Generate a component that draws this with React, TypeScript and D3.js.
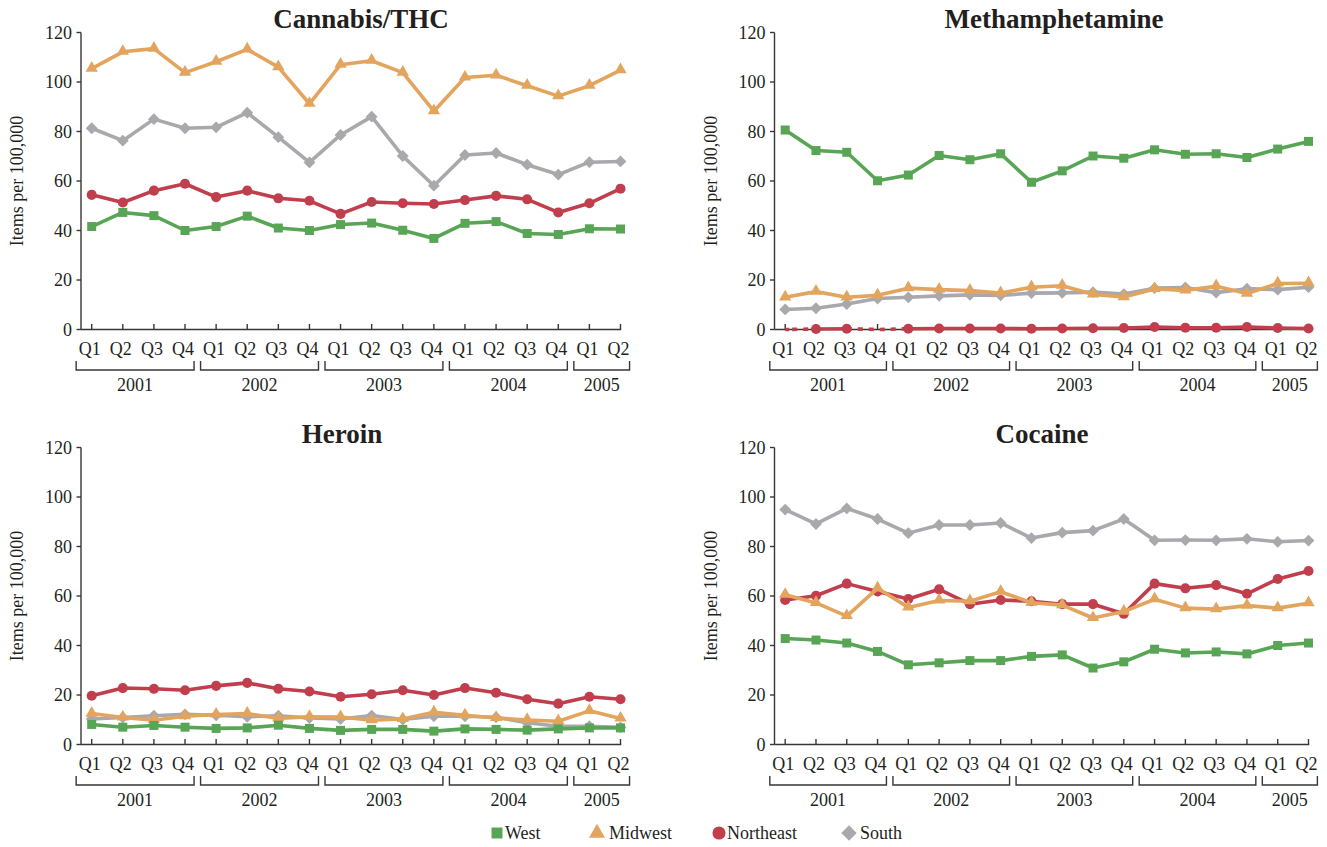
import React from "react";
import * as d3 from "d3";

// Quarter categories, Q1 2001 through Q2 2005
const quarters = [
  "Q1", "Q2", "Q3", "Q4",
  "Q1", "Q2", "Q3", "Q4",
  "Q1", "Q2", "Q3", "Q4",
  "Q1", "Q2", "Q3", "Q4",
  "Q1", "Q2",
];
const years = ["2001", "2002", "2003", "2004", "2005"];
const quartersPerYear = [4, 4, 4, 4, 2];
const yTicks = [0, 20, 40, 60, 80, 100, 120];

const regions = ["West", "Midwest", "Northeast", "South"];

// Items per 100,000 by region
const cannabisWest = [41.6, 47.3, 46.0, 40.0, 41.6, 45.8, 41.0, 40.0, 42.4, 43.0, 40.1, 36.8, 42.9, 43.6, 38.8, 38.4, 40.7, 40.6];
const cannabisMidwest = [105.4, 112.2, 113.5, 103.8, 108.2, 113.2, 106.0, 91.2, 107.0, 108.6, 103.8, 88.2, 101.8, 102.7, 98.5, 94.3, 98.5, 104.8];
const cannabisNortheast = [54.4, 51.3, 56.1, 58.9, 53.5, 56.1, 53.0, 52.0, 46.7, 51.5, 51.0, 50.7, 52.3, 54.0, 52.6, 47.3, 51.0, 56.9];
const cannabisSouth = [81.3, 76.3, 85.0, 81.3, 81.7, 87.6, 77.7, 67.5, 78.6, 86.0, 70.1, 58.1, 70.5, 71.3, 66.6, 62.6, 67.6, 67.9];

const methWest = [80.6, 72.3, 71.6, 60.1, 62.4, 70.3, 68.6, 71.0, 59.5, 64.1, 70.1, 69.2, 72.6, 70.8, 71.0, 69.5, 72.9, 76.0];
const methMidwest = [13.0, 15.3, 13.0, 13.8, 16.7, 16.1, 15.7, 14.7, 17.1, 17.7, 14.2, 13.1, 16.4, 15.8, 17.5, 14.5, 18.6, 18.7];
const methNortheast = [null, 0.2, 0.3, null, 0.3, 0.4, 0.4, 0.4, 0.3, 0.4, 0.5, 0.6, 1.0, 0.7, 0.7, 1.0, 0.6, 0.4];
const methSouth = [8.1, 8.6, 10.3, 12.5, 13.0, 13.6, 14.0, 13.8, 14.7, 14.8, 15.1, 14.3, 16.7, 17.0, 14.9, 16.5, 16.1, 17.1];

const heroinWest = [8.1, 7.0, 7.7, 7.0, 6.5, 6.7, 7.8, 6.5, 5.7, 6.1, 6.1, 5.4, 6.3, 6.1, 5.8, 6.3, 6.7, 6.7];
const heroinMidwest = [12.5, 10.9, 9.8, 11.4, 12.1, 12.5, 10.5, 11.2, 11.1, 9.8, 10.3, 13.0, 11.8, 10.7, 9.9, 9.4, 13.6, 10.5];
const heroinNortheast = [19.7, 22.8, 22.5, 21.9, 23.7, 24.9, 22.5, 21.4, 19.3, 20.3, 21.9, 20.0, 22.8, 20.9, 18.3, 16.5, 19.3, 18.3];
const heroinSouth = [10.3, 10.9, 11.6, 12.2, 11.8, 11.2, 11.6, 10.7, 10.3, 11.7, 10.1, 11.4, 11.4, 11.0, 8.8, 7.4, 7.4, 6.9];

const cocaineWest = [42.8, 42.2, 41.0, 37.6, 32.2, 33.0, 33.9, 33.9, 35.6, 36.2, 30.9, 33.4, 38.5, 37.0, 37.4, 36.6, 40.0, 41.0];
const cocaineMidwest = [60.5, 57.2, 51.9, 63.1, 55.4, 58.2, 57.9, 61.7, 57.3, 56.3, 51.1, 53.7, 58.7, 55.1, 54.7, 56.1, 55.1, 57.1];
const cocaineNortheast = [58.4, 60.1, 65.0, 61.8, 58.8, 62.7, 56.7, 58.4, 57.9, 56.7, 56.7, 52.8, 65.0, 63.1, 64.4, 60.9, 66.9, 70.1];
const cocaineSouth = [94.9, 89.1, 95.4, 91.1, 85.4, 88.7, 88.7, 89.5, 83.4, 85.6, 86.4, 91.1, 82.5, 82.6, 82.5, 83.1, 81.9, 82.4];

type Series = (number | null)[];

const colors: Record<string, string> = {
  West: "#58a556",
  Midwest: "#e3a45e",
  Northeast: "#c13e4d",
  South: "#a8a8ad",
};

const textColor = "#231f20";
const axisColor = "#3a3637";
const font = "'Liberation Serif', 'Times New Roman', serif";

interface PanelSpec {
  title: string;
  titleX: number;
  axisX: number;
  firstX: number;
  lastX: number;
  top: number; // y of the 120 line
  bottom: number; // y of the 0 line
  series: Record<string, Series>;
}

const panels: PanelSpec[] = [
  {
    title: "Cannabis/THC", titleX: 361, axisX: 81, firstX: 91.7, lastX: 620.5, top: 32.5, bottom: 329.5,
    series: { West: cannabisWest, Midwest: cannabisMidwest, Northeast: cannabisNortheast, South: cannabisSouth },
  },
  {
    title: "Methamphetamine", titleX: 1054, axisX: 774.5, firstX: 785.2, lastX: 1308.5, top: 32.5, bottom: 329.5,
    series: { West: methWest, Midwest: methMidwest, Northeast: methNortheast, South: methSouth },
  },
  {
    title: "Heroin", titleX: 342, axisX: 81, firstX: 91.7, lastX: 620.5, top: 447.5, bottom: 744.5,
    series: { West: heroinWest, Midwest: heroinMidwest, Northeast: heroinNortheast, South: heroinSouth },
  },
  {
    title: "Cocaine", titleX: 1042, axisX: 774.5, firstX: 785.2, lastX: 1308.5, top: 447.5, bottom: 744.5,
    series: { West: cocaineWest, Midwest: cocaineMidwest, Northeast: cocaineNortheast, South: cocaineSouth },
  },
];

// drawing order, bottom to top
const drawOrder = ["South", "Northeast", "Midwest", "West"];

function markerPath(region: string, scale = 1): { d: string; rotate: number } {
  switch (region) {
    case "West":
      return { d: d3.symbol(d3.symbolSquare, 81 * scale * scale)() || "", rotate: 0 };
    case "Midwest":
      return { d: d3.symbol(d3.symbolTriangle, 66 * scale * scale)() || "", rotate: 0 };
    case "Northeast":
      return { d: d3.symbol(d3.symbolCircle, 80 * scale * scale)() || "", rotate: 0 };
    default:
      return { d: d3.symbol(d3.symbolSquare, 70 * scale * scale)() || "", rotate: 45 };
  }
}

function Panel({ p }: { p: PanelSpec }) {
  const idx = quarters.map((_, i) => i);
  const x = d3.scalePoint<number>().domain(idx).range([p.firstX, p.lastX]);
  const y = d3.scaleLinear().domain([0, 120]).range([p.bottom, p.top]);
  const step = x.step();

  const line = d3
    .line<number | null>()
    .defined((d) => d !== null)
    .x((_, i) => x(i) as number)
    .y((d) => y(d as number));

  // brackets under each year's quarters
  let start = 0;
  const brackets = years.map((label, k) => {
    const n = quartersPerYear[k];
    const x0 = (x(start) as number) - step / 2;
    const x1 = (x(start + n - 1) as number) + step / 2 - 6.5;
    start += n;
    return { label, x0, x1 };
  });

  const midY = (p.top + p.bottom) / 2;

  return (
    <g>
      <text x={p.titleX} y={p.top - 5} textAnchor="middle" fontFamily={font} fontWeight="bold" fontSize={27} fill={textColor}>
        {p.title}
      </text>
      <text
        transform={`translate(${p.axisX - 58},${midY}) rotate(-90)`}
        textAnchor="middle"
        fontFamily={font}
        fontSize={18}
        fill={textColor}
      >
        Items per 100,000
      </text>
      {/* y axis */}
      <line x1={p.axisX} x2={p.axisX} y1={p.top} y2={p.bottom} stroke={axisColor} strokeWidth={1.4} />
      {yTicks.map((t) => (
        <g key={t}>
          <line x1={p.axisX - 4.5} x2={p.axisX} y1={y(t)} y2={y(t)} stroke={axisColor} strokeWidth={1.4} />
          <text x={p.axisX - 9} y={y(t)} dy="0.35em" textAnchor="end" fontFamily={font} fontSize={18} fill={textColor}>
            {t}
          </text>
        </g>
      ))}
      {/* x axis */}
      <line x1={p.axisX} x2={p.lastX + 0.7} y1={p.bottom} y2={p.bottom} stroke={axisColor} strokeWidth={1.4} />
      {idx.map((i) => (
        <g key={i}>
          <line x1={x(i)} x2={x(i)} y1={p.bottom} y2={p.bottom - 5.5} stroke={axisColor} strokeWidth={1.4} />
          <text x={(x(i) as number) - 2} y={p.bottom + 25} textAnchor="middle" fontFamily={font} fontSize={18} fill={textColor}>
            {quarters[i]}
          </text>
        </g>
      ))}
      {brackets.map((b) => (
        <g key={b.label}>
          <path
            d={`M${b.x0},${p.bottom + 31.5}V${p.bottom + 40.5}H${b.x1}V${p.bottom + 31.5}`}
            fill="none"
            stroke={axisColor}
            strokeWidth={1.4}
          />
          <text x={(b.x0 + b.x1) / 2} y={p.bottom + 61.5} textAnchor="middle" fontFamily={font} fontSize={18} fill={textColor}>
            {b.label}
          </text>
        </g>
      ))}
      {/* series */}
      {drawOrder.map((r) => {
        const vals = p.series[r];
        const m = markerPath(r);
        // segments touching a missing quarter are drawn dashed along the baseline
        const gaps: string[] = [];
        vals.forEach((v, i) => {
          if (v !== null) return;
          const a = i > 0 ? i - 1 : i;
          const b = i < vals.length - 1 ? i + 1 : i;
          const seg = [a, b].map((j) => [x(j) as number, y(vals[j] ?? 0)] as [number, number]);
          const startPt: [number, number] = i === 0 ? [(x(0) as number) + 4, y(0)] : seg[0];
          gaps.push(d3.line()([startPt, [x(i) as number, y(0)], seg[1]]) || "");
        });
        return (
          <g key={r}>
            {gaps.map((g, k) => (
              <path key={k} d={g} fill="none" stroke={colors[r]} strokeWidth={3.6} strokeDasharray="5 6" />
            ))}
            <path d={line(vals) || ""} fill="none" stroke={colors[r]} strokeWidth={3.6} strokeLinejoin="round" />
            {vals.map((v, i) =>
              v === null ? null : (
                <path
                  key={i}
                  d={m.d}
                  transform={`translate(${x(i)},${y(v) + (r === "Midwest" ? -0.5 : 0)}) rotate(${m.rotate})`}
                  fill={colors[r]}
                />
              )
            )}
          </g>
        );
      })}
    </g>
  );
}

const legendX = [497, 597, 719, 849];
const legendTextX = [505, 609, 727, 860];

export default function App() {
  return (
    <svg
      width={1327}
      height={847}
      style={{ position: "absolute", left: 0, top: 0, background: "#ffffff" }}
    >
      <rect width={1327} height={847} fill="#ffffff" />
      {panels.map((p) => (
        <Panel key={p.title} p={p} />
      ))}
      {regions.map((r, i) => {
        const m = markerPath(r, r === "West" ? 1.22 : 1.3);
        return (
          <g key={r}>
            <path d={m.d} transform={`translate(${legendX[i]},${833}) rotate(${m.rotate})`} fill={colors[r]} />
            <text x={legendTextX[i]} y={839} fontFamily={font} fontSize={18} fill={textColor}>
              {r}
            </text>
          </g>
        );
      })}
    </svg>
  );
}
